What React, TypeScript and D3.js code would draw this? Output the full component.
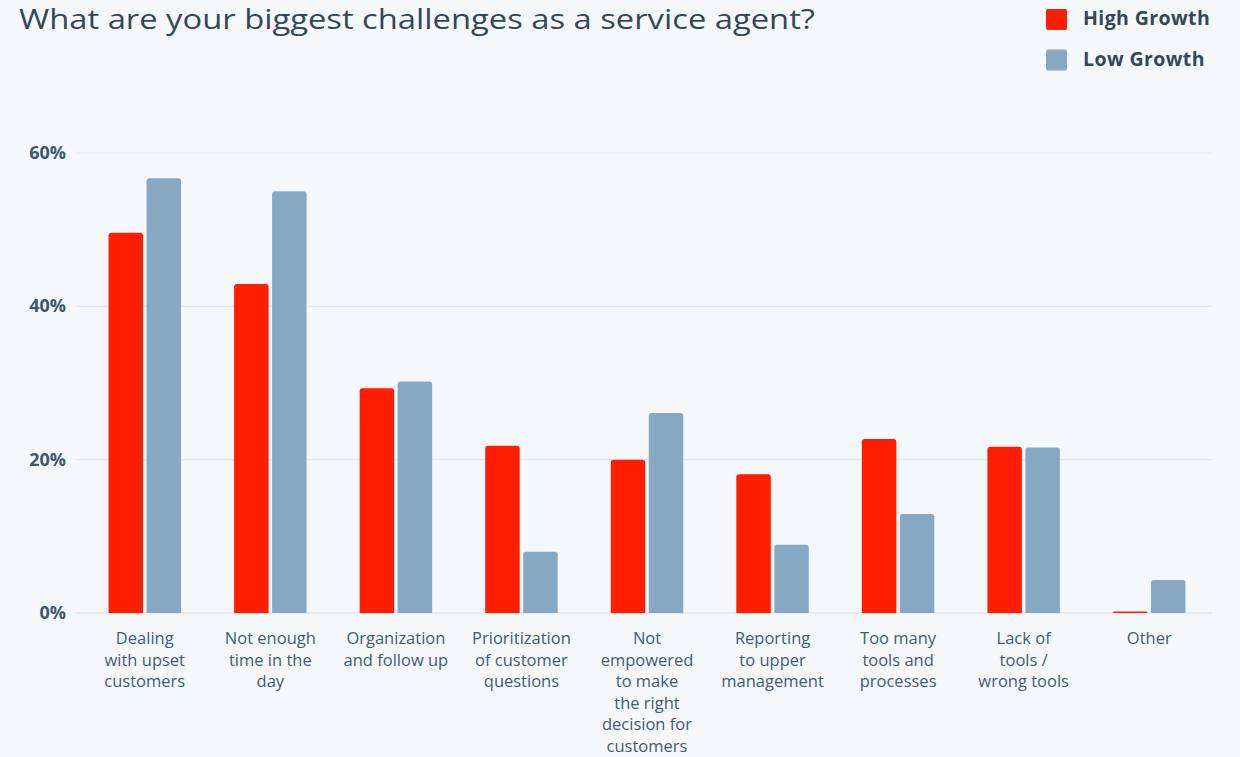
import React from "react";
import * as d3 from "d3";

const categories: string[][] = [
  ["Dealing", "with upset", "customers"],
  ["Not enough", "time in the", "day"],
  ["Organization", "and follow up"],
  ["Prioritization", "of customer", "questions"],
  ["Not", "empowered", "to make", "the right", "decision for", "customers"],
  ["Reporting", "to upper", "management"],
  ["Too many", "tools and", "processes"],
  ["Lack of", "tools /", "wrong tools"],
  ["Other"],
];
const highGrowth = [49.6, 42.9, 29.3, 21.8, 20.0, 18.1, 22.7, 21.7, 0.2];
const lowGrowth = [56.7, 55.0, 30.2, 8.0, 26.1, 8.9, 12.9, 21.6, 4.3];
const yTicks = [0, 20, 40, 60];
const seriesNames = ["High Growth", "Low Growth"];
const seriesColors = ["#FF1E00", "#87A8C3"];

const W = 1240;
const H = 757;
const FONT = "'Open Sans', 'Noto Sans', sans-serif";

function topRoundedRect(x: number, y: number, w: number, h: number, r: number) {
  const rr = Math.min(r, w / 2, h);
  if (h <= 0) return "";
  return `M${x},${y + h}V${y + rr}Q${x},${y} ${x + rr},${y}H${x + w - rr}Q${x + w},${y} ${x + w},${y + rr}V${y + h}Z`;
}

export default function App() {
  const x = d3.scaleBand<number>().domain(d3.range(categories.length)).range([82, 1212]).paddingInner(0).paddingOuter(0);
  const y = d3.scaleLinear().domain([0, 60]).range([613, 153]);
  const barW = 34.5;
  const gap = 3.5;
  const series = [highGrowth, lowGrowth];

  return (
    <svg width={W} height={H} style={{ position: "absolute", left: 0, top: 0, background: "#F5F8FB", fontFamily: FONT }}>
      <rect x={0} y={0} width={W} height={H} fill="#F5F8FB" />
      <text x={19} y={29} fontSize={28} fill="#33475B" fontWeight={400} textLength={796} lengthAdjust="spacingAndGlyphs">
        What are your biggest challenges as a service agent?
      </text>
      {seriesNames.map((n, i) => (
        <g key={n}>
          <rect x={1046} y={9 + i * 40.5} width={21} height={21} rx={2} fill={seriesColors[i]} />
          <text x={1083} y={25 + i * 41} fontSize={19.5} fontWeight={700} fill="#33475B" letterSpacing={0.4}>{n}</text>
        </g>
      ))}
      {yTicks.map((t) => (
        <g key={t}>
          <line x1={76} x2={1212} y1={y(t)} y2={y(t)} stroke={t === 0 ? "#D3DBE3" : "#E1E7EE"} strokeWidth={1.2} />
          <text x={66} y={y(t) + 6} textAnchor="end" fontSize={18} fontWeight={700} fill="#3E5670">{t}%</text>
        </g>
      ))}
      {categories.map((lines, i) => {
        const cx = (x(i) as number) + x.bandwidth() / 2;
        return (
          <g key={i}>
            {series.map((s, si) => {
              const bx = si === 0 ? cx - gap / 2 - barW : cx + gap / 2;
              const top = y(s[i]);
              return (
                <path key={si} d={topRoundedRect(bx, top, barW, y(0) - top, 3)} fill={seriesColors[si]} />
              );
            })}
            <text textAnchor="middle" fontSize={16.5} fill="#425B76">
              {lines.map((l, li) => (
                <tspan key={li} x={cx} y={644 + li * 21.6}>{l}</tspan>
              ))}
            </text>
          </g>
        );
      })}
    </svg>
  );
}
